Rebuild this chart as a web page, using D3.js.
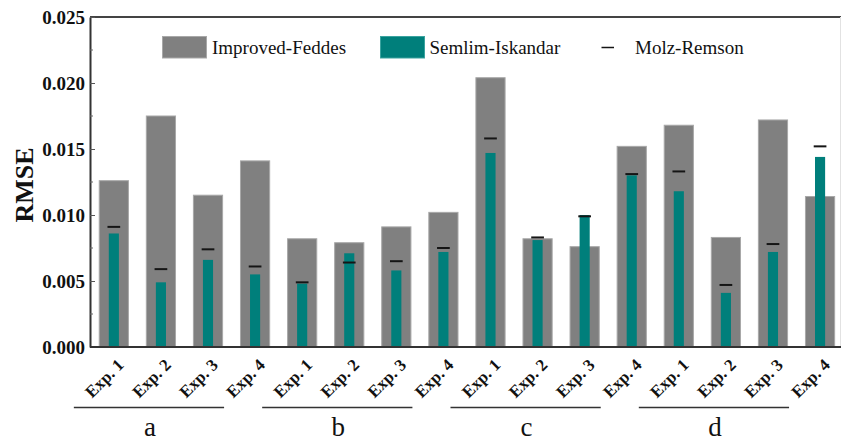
<!DOCTYPE html>
<html>
<head>
<meta charset="utf-8">
<script src="https://cdn.jsdelivr.net/npm/d3@7/dist/d3.min.js"></script>
<style>
  html, body { margin: 0; padding: 0; background: #fff; }
  svg { display: block; }
  text { font-family: "Liberation Serif", "Times New Roman", serif; }
</style>
</head>
<body>
<svg id="chart" width="841" height="441"></svg>
<script>
// Experiment groups and runs
const groups = ["a", "b", "c", "d"];
const runs = ["Exp. 1", "Exp. 2", "Exp. 3", "Exp. 4"];

// RMSE per model, ordered a1..a4, b1..b4, c1..c4, d1..d4
const improvedFeddes = [0.0126, 0.0175, 0.0115, 0.0141,
                        0.0082, 0.0079, 0.0091, 0.0102,
                        0.0204, 0.0082, 0.0076, 0.0152,
                        0.0168, 0.0083, 0.0172, 0.0114];
const semlimIskandar = [0.0086, 0.0049, 0.0066, 0.0055,
                        0.0048, 0.0071, 0.0058, 0.0072,
                        0.0147, 0.0081, 0.0100, 0.0130,
                        0.0118, 0.0041, 0.0072, 0.0144];
const molzRemson     = [0.0091, 0.0059, 0.0074, 0.0061,
                        0.0049, 0.0064, 0.0065, 0.0075,
                        0.0158, 0.0083, 0.0099, 0.0131,
                        0.0133, 0.0047, 0.0078, 0.0152];

const yTicks = [0, 0.005, 0.010, 0.015, 0.020, 0.025];
const seriesNames = ["Improved-Feddes", "Semlim-Iskandar", "Molz-Remson"];

const colors = { feddes: "#808080", feddesEdge: "#a8a8a8", semlim: "#007f7b", molz: "#151515" };

const svg = d3.select("#chart");
const plot = { left: 90, top: 17, right: 841, bottom: 347 };

const ids = [];
groups.forEach(g => runs.forEach(r => ids.push(g + "|" + r)));
const rows = ids.map((id, i) => ({
  id, group: id.split("|")[0], run: id.split("|")[1],
  feddes: improvedFeddes[i], semlim: semlimIskandar[i], molz: molzRemson[i]
}));

const x = d3.scaleBand().domain(ids).range([90.3, 843.6]).paddingInner(0.38).paddingOuter(0.19);
const y = d3.scaleLinear().domain([0, 0.025]).range([plot.bottom, plot.top]);
const step = x.step();
const cx = id => x(id) + x.bandwidth() / 2;

// Improved-Feddes bars
svg.append("g").selectAll("rect").data(rows).join("rect")
  .attr("x", d => x(d.id))
  .attr("y", d => y(d.feddes))
  .attr("width", x.bandwidth())
  .attr("height", d => y(0) - y(d.feddes))
  .attr("fill", colors.feddes)
  .attr("stroke", colors.feddesEdge)
  .attr("stroke-width", 1);

// Semlim-Iskandar bars (narrow, centred in each band)
const sw = step * 0.215;
svg.append("g").selectAll("rect").data(rows).join("rect")
  .attr("x", d => cx(d.id) - sw / 2)
  .attr("y", d => y(d.semlim))
  .attr("width", sw)
  .attr("height", d => y(0) - y(d.semlim))
  .attr("fill", colors.semlim);

// Molz-Remson markers
const mw = step * 0.27;
svg.append("g").selectAll("line").data(rows).join("line")
  .attr("x1", d => cx(d.id) - mw / 2)
  .attr("x2", d => cx(d.id) + mw / 2)
  .attr("y1", d => y(d.molz))
  .attr("y2", d => y(d.molz))
  .attr("stroke", colors.molz)
  .attr("stroke-width", 2);

// Frame
svg.append("line").attr("x1", plot.left).attr("x2", plot.right)
  .attr("y1", plot.top).attr("y2", plot.top)
  .attr("stroke", "#444").attr("stroke-width", 2);
svg.append("line").attr("x1", 840.5).attr("x2", 840.5)
  .attr("y1", plot.top).attr("y2", plot.bottom)
  .attr("stroke", "#e2e2e2").attr("stroke-width", 1);

// Y axis with inward ticks
const yAxis = d3.axisLeft(y).tickValues(yTicks).tickFormat(d3.format(".3f")).tickSizeInner(-5).tickSizeOuter(0).tickPadding(5);
const gy = svg.append("g").attr("transform", `translate(${plot.left},0)`).call(yAxis);
gy.select(".domain").attr("stroke", "#333").attr("stroke-width", 2);
gy.selectAll(".tick line").attr("stroke", "#555").attr("stroke-width", 1);
gy.selectAll(".tick text")
  .attr("font-family", "'Liberation Serif', 'Times New Roman', serif")
  .attr("font-size", 19).attr("font-weight", "bold").attr("fill", "#111");
const minor = d3.range(0.0025, 0.025, 0.005);
svg.append("g").selectAll("line").data(minor).join("line")
  .attr("x1", plot.left).attr("x2", plot.left + 3)
  .attr("y1", d => y(d)).attr("y2", d => y(d))
  .attr("stroke", "#666").attr("stroke-width", 1);

// X axis baseline
const xAxis = d3.axisBottom(x).tickSize(0).tickFormat("");
const gx = svg.append("g").attr("transform", `translate(0,${plot.bottom})`).call(xAxis);
gx.select(".domain").attr("d", `M${plot.left},0H${plot.right}`).attr("stroke", "#333").attr("stroke-width", 2);

// Rotated run labels
svg.append("g").selectAll("text").data(rows).join("text")
  .attr("transform", d => `translate(${cx(d.id) + 11},366) rotate(-45)`)
  .attr("text-anchor", "end")
  .attr("font-size", 17).attr("font-weight", "bold").attr("fill", "#111")
  .text(d => d.run);

// Group underlines and letters
groups.forEach(g => {
  const x0 = cx(g + "|" + runs[0]) - 40;
  const x1 = cx(g + "|" + runs[runs.length - 1]) - 31;
  svg.append("line").attr("x1", x0).attr("x2", x1)
    .attr("y1", 407.5).attr("y2", 407.5)
    .attr("stroke", "#333").attr("stroke-width", 1.5);
  svg.append("text").attr("x", (x0 + x1) / 2 + 1).attr("y", 436)
    .attr("text-anchor", "middle").attr("font-size", 27).attr("fill", "#111")
    .text(g);
});

// Y axis title
svg.append("text")
  .attr("transform", "translate(33,185) rotate(-90)")
  .attr("text-anchor", "middle")
  .attr("font-size", 26).attr("font-weight", "bold").attr("fill", "#111")
  .text("RMSE");

// Legend
const legend = svg.append("g");
legend.append("rect").attr("x", 162.5).attr("y", 36.5).attr("width", 44).attr("height", 21.5)
  .attr("fill", colors.feddes).attr("stroke", colors.feddesEdge).attr("stroke-width", 1);
legend.append("text").attr("x", 212).attr("y", 54).attr("font-size", 19).attr("fill", "#111").text(seriesNames[0]);
legend.append("rect").attr("x", 380.5).attr("y", 36.5).attr("width", 44).attr("height", 21.5)
  .attr("fill", colors.semlim).attr("stroke", "#3aa39f").attr("stroke-width", 1);
legend.append("text").attr("x", 429.5).attr("y", 54).attr("font-size", 19).attr("fill", "#111").text(seriesNames[1]);
legend.append("line").attr("x1", 601.5).attr("x2", 614).attr("y1", 47.5).attr("y2", 47.5)
  .attr("stroke", colors.molz).attr("stroke-width", 1.5);
legend.append("text").attr("x", 635).attr("y", 54).attr("font-size", 19).attr("fill", "#111").text(seriesNames[2]);
</script>
</body>
</html>
